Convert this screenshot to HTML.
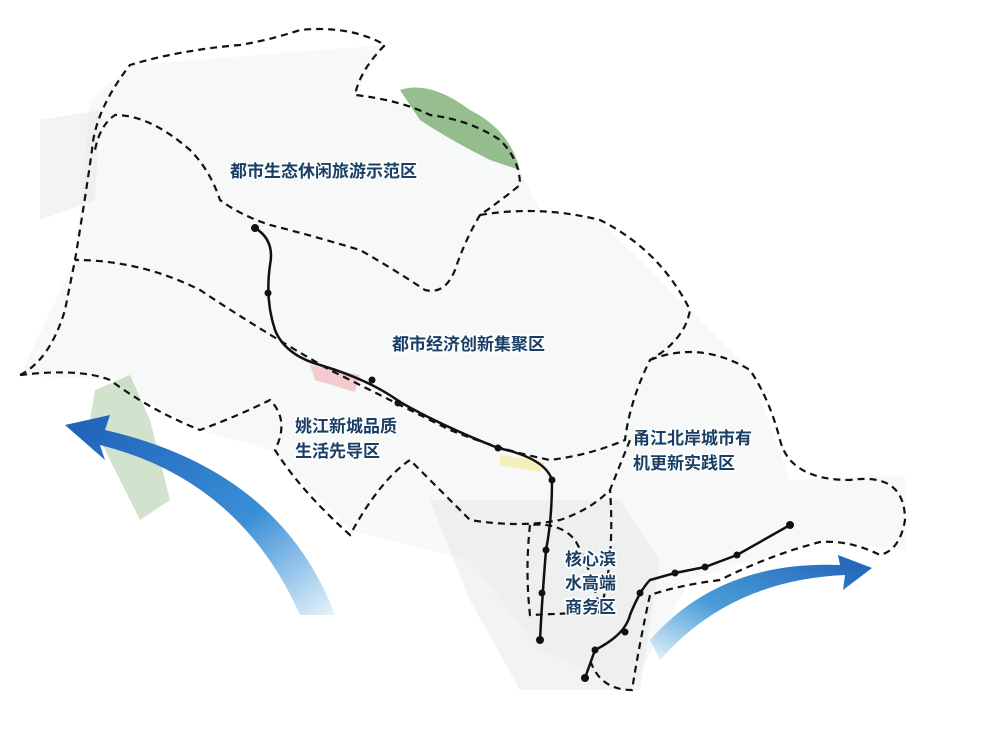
<!DOCTYPE html>
<html><head><meta charset="utf-8"><style>
html,body{margin:0;padding:0;background:#fff;}
svg{display:block}
text{font-family:"Liberation Sans","Noto Sans CJK SC",sans-serif;font-size:17px;font-weight:bold;fill:#1a3f66;paint-order:stroke;stroke:#fff;stroke-width:3px;}
</style></head><body>
<svg width="990" height="750" viewBox="0 0 990 750" xmlns="http://www.w3.org/2000/svg">
<defs>
<linearGradient id="g1" x1="0" y1="0" x2="1" y2="1">
<stop offset="0" stop-color="#1f5fb8"/><stop offset="0.6" stop-color="#3a8fd6"/><stop offset="1" stop-color="#e8f4fb"/></linearGradient>
<linearGradient id="g2" x1="0" y1="1" x2="1" y2="0">
<stop offset="0" stop-color="#e8f4fb"/><stop offset="0.4" stop-color="#4a9ed8"/><stop offset="1" stop-color="#1f5fb8"/></linearGradient>
</defs>
<g fill="#eef0f0" opacity="0.45">
<path d="M20 375 L75 260 L90 100 L130 65 L385 45 L355 95 L470 120 L520 170 L540 210 L600 220 L690 310 L750 370 L790 480 L905 475 L905 550 L820 540 L690 580 L630 690 L540 650 L470 560 L350 530 L270 450 L200 430 L110 380 Z"/>
</g>
<g fill="#e2e4e4" opacity="0.45">
<path d="M430 500 L620 500 L660 560 L640 690 L520 690 L470 600 Z"/>
<path d="M40 120 L100 110 L95 200 L40 220 Z"/>
</g>
<path d="M400 90 Q430 80 470 110 Q510 130 520 170 L490 160 Q450 140 420 120 Z" fill="#6ba35f" opacity="0.7"/>
<path d="M95 390 L130 375 L150 420 L170 500 L140 520 L110 460 L90 420 Z" fill="#7aae6d" opacity="0.35"/>
<path d="M310 365 L360 375 L355 392 L315 380 Z" fill="#f2b6c0" opacity="0.7"/>
<path d="M500 455 L545 462 L540 472 L500 465 Z" fill="#f3eda0" opacity="0.7"/>
<path d="M335 615 Q280 470 105 430 L110 415 L65 425 L105 460 L100 445 Q240 480 300 615 Z" fill="url(#g1)"/>
<path d="M660 660 Q730 580 845 575 L843 590 L872 568 L838 555 L840 565 Q720 560 650 640 Z" fill="url(#g2)"/>
<g fill="none" stroke="#111" stroke-width="2.2" stroke-dasharray="7 5">
<path d="M20 375 Q50 360 65 310 L75 260 Q85 200 92 150 Q95 110 130 65 Q180 50 240 45 Q270 40 300 30 Q350 25 385 45 Q360 70 355 95 Q400 100 430 115 Q470 120 500 140 Q520 160 520 185 Q495 205 480 215 Q465 240 455 270 Q445 295 425 290 Q395 270 360 250 Q310 235 270 225 Q240 215 220 200 Q210 170 190 150 Q150 115 115 115 Q100 125 95 150"/>
<path d="M480 215 Q540 205 600 220 Q660 250 690 310 Q685 340 650 360 Q630 400 625 440 Q590 455 550 460 Q500 450 450 430 Q400 405 330 370 Q260 330 200 290 Q140 260 75 260"/>
<path d="M20 375 Q80 368 110 380 Q150 410 200 430 Q240 415 270 400 Q290 420 275 450 Q300 490 350 535 Q380 480 410 460 Q440 490 470 520 Q520 528 560 520 Q590 510 610 490 L630 440"/>
<path d="M650 360 Q700 340 750 370 Q770 400 780 440 Q790 480 850 480 Q905 472 905 520 Q900 550 880 555 Q850 540 820 542 Q770 555 720 580 Q680 585 650 595 Q640 640 632 690 Q600 690 590 660"/>
<path d="M530 525 Q525 570 530 615 L600 612 Q592 570 575 540 Q560 522 530 525"/>
<path d="M600 612 Q615 560 610 490"/>
</g>
<g fill="none" stroke="#111" stroke-width="2.5">
<path d="M255 228 Q275 240 270 265 Q265 300 275 330 Q285 355 320 365 Q370 380 400 402 Q440 425 498 448 Q545 458 552 480 Q552 520 546 550 Q542 600 540 640"/>
<path d="M585 678 L595 650 Q625 635 630 615 Q640 590 650 580 L675 573 L705 567 L737 555 L790 525"/>
</g>
<g fill="#111">
<circle cx="255" cy="228" r="4"/><circle cx="268" cy="293" r="3.5"/><circle cx="372" cy="380" r="3.5"/><circle cx="398" cy="403" r="3.5"/><circle cx="498" cy="448" r="3.5"/><circle cx="552" cy="480" r="3.5"/><circle cx="546" cy="550" r="3.5"/><circle cx="542" cy="593" r="3.5"/><circle cx="540" cy="640" r="4"/>
<circle cx="585" cy="678" r="4"/><circle cx="595" cy="650" r="3.5"/><circle cx="625" cy="632" r="3.5"/><circle cx="640" cy="593" r="3.5"/><circle cx="675" cy="573" r="3.5"/><circle cx="705" cy="567" r="3.5"/><circle cx="737" cy="555" r="3.5"/><circle cx="790" cy="525" r="4"/>
</g>
<text x="230" y="177">都市生态休闲旅游示范区</text>
<text x="392" y="350">都市经济创新集聚区</text>
<text x="295" y="432">姚江新城品质</text>
<text x="295" y="457">生活先导区</text>
<text x="633" y="444">甬江北岸城市有</text>
<text x="633" y="469">机更新实践区</text>
<text x="565" y="565">核心滨</text>
<text x="565" y="589">水高端</text>
<text x="565" y="613">商务区</text>
</svg>
</body></html>
